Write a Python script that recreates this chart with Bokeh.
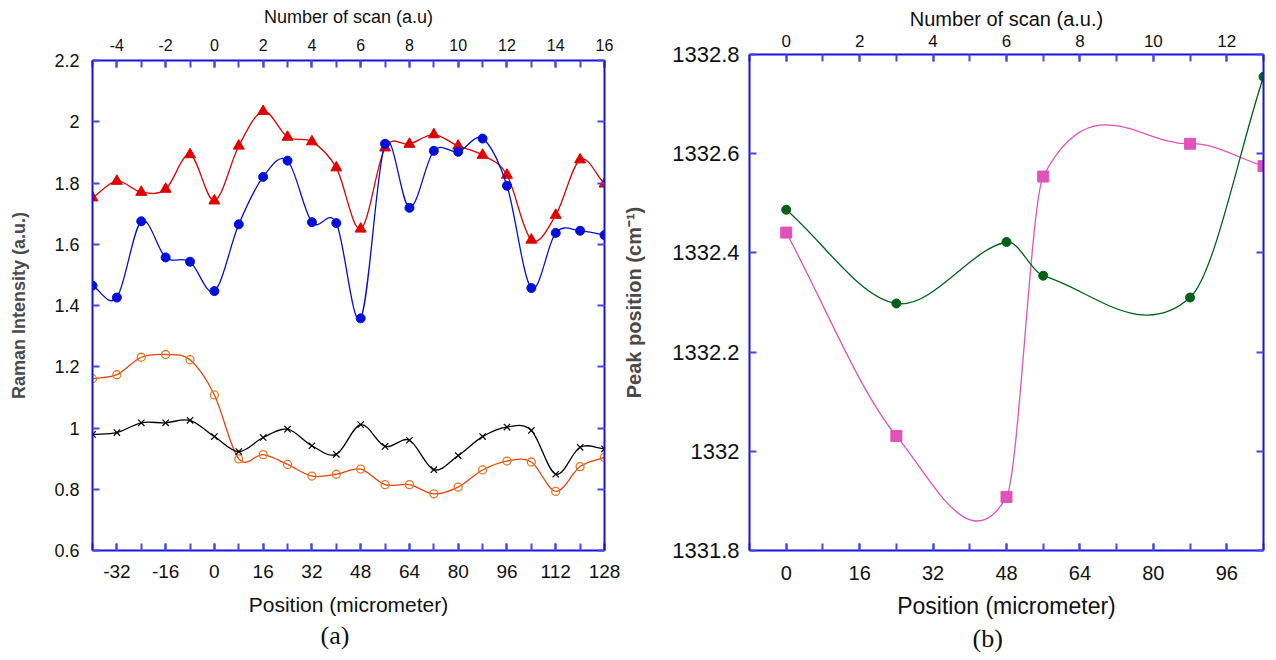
import numpy as np
from bokeh.plotting import figure
from bokeh.layouts import row, column
from bokeh.models import Range1d, LinearAxis, FixedTicker, CustomJSTickFormatter, Title
from bokeh.embed import file_html
from bokeh.resources import INLINE

# ---------------- data: panel (a) ----------------
pos_a = [-40, -32, -24, -16, -8, 0, 8, 16, 24, 32, 40, 48, 56, 64, 72, 80, 88, 96, 104, 112, 120, 128]
scan_ticks_a = [-4, -2, 0, 2, 4, 6, 8, 10, 12, 14, 16]
scan_minor_a = [-5, -4, -3, -2, -1, 0, 1, 2, 3, 4, 5, 6, 7, 8, 9, 10, 11, 12, 13, 14, 15, 16]
pos_ticks_a = [-32, -16, 0, 16, 32, 48, 64, 80, 96, 112, 128]
y_ticks_a = [0.6, 0.8, 1.0, 1.2, 1.4, 1.6, 1.8, 2.0, 2.2]

red_a = [1.752, 1.806, 1.770, 1.780, 1.893, 1.742, 1.921, 2.034, 1.950, 1.935, 1.850,
         1.650, 1.915, 1.927, 1.958, 1.921, 1.891, 1.826, 1.614, 1.695, 1.876, 1.797]
blue_a = [1.465, 1.426, 1.675, 1.557, 1.543, 1.447, 1.665, 1.820, 1.873, 1.672, 1.669,
          1.358, 1.928, 1.719, 1.905, 1.902, 1.945, 1.791, 1.457, 1.637, 1.644, 1.630]
orange_a = [1.161, 1.174, 1.231, 1.240, 1.223, 1.108, 0.899, 0.913, 0.881, 0.843, 0.849,
            0.866, 0.815, 0.815, 0.785, 0.807, 0.863, 0.892, 0.889, 0.793, 0.874, 0.904]
black_a = [0.979, 0.985, 1.017, 1.017, 1.025, 0.972, 0.923, 0.969, 0.996, 0.942, 0.914,
           1.011, 0.940, 0.960, 0.864, 0.910, 0.972, 1.003, 0.992, 0.849, 0.937, 0.932]

# ---------------- data: panel (b) ----------------
pos_b = [0, 24, 48, 56, 88, 104]
green_b = [1332.487, 1332.298, 1332.422, 1332.354, 1332.310, 1332.755]
pink_b = [1332.441, 1332.031, 1331.908, 1332.554, 1332.620, 1332.575]
scan_ticks_b = [0, 2, 4, 6, 8, 10, 12]
scan_minor_b = [-1, 0, 1, 2, 3, 4, 5, 6, 7, 8, 9, 10, 11, 12, 13]
pos_ticks_b = [0, 16, 32, 48, 64, 80, 96]
pos_minor_b = [-8, 0, 8, 16, 24, 32, 40, 48, 56, 64, 72, 80, 88, 96, 104]
y_ticks_b = [1331.8, 1332.0, 1332.2, 1332.4, 1332.6, 1332.8]

AXC = "#1414dc"
TKC = "#4646e6"
FONT = "Liberation Sans"


def smooth(x, y):
    """Cubic Hermite (Catmull-Rom style) bezier segments through the data points."""
    x = np.asarray(x, float)
    y = np.asarray(y, float)
    m = np.empty(len(x))
    m[1:-1] = (y[2:] - y[:-2]) / (x[2:] - x[:-2])
    m[0] = (y[1] - y[0]) / (x[1] - x[0])
    m[-1] = (y[-1] - y[-2]) / (x[-1] - x[-2])
    dx = np.diff(x)
    return dict(x0=x[:-1], y0=y[:-1], x1=x[1:], y1=y[1:],
                cx0=x[:-1] + dx / 3, cy0=y[:-1] + m[:-1] * dx / 3,
                cx1=x[1:] - dx / 3, cy1=y[1:] - m[1:] * dx / 3)


def style_axis(ax, fs, label_fs=None):
    ax.axis_line_color = AXC
    ax.axis_line_width = 2
    ax.major_tick_line_color = TKC
    ax.major_tick_line_width = 2
    ax.major_tick_in = 7
    ax.major_tick_out = 0
    ax.minor_tick_line_color = TKC
    ax.minor_tick_line_width = 2
    ax.minor_tick_in = 7
    ax.minor_tick_out = 0
    ax.major_label_text_font = FONT
    ax.major_label_text_font_size = fs
    ax.major_label_text_color = "#111111"
    ax.axis_label_text_font = FONT
    ax.axis_label_text_font_style = "normal"
    ax.axis_label_text_color = "#111111"
    if label_fs:
        ax.axis_label_text_font_size = label_fs


yfmt = "var s = tick.toFixed(1); return s.endsWith('.0') ? s.slice(0, -2) : s;"
xfmt = "return tick.toFixed(0);"
blank = "return '';"

H = 652

# ================= panel (a) =================
p1 = figure(width=620, height=H, x_range=Range1d(-40, 128), y_range=Range1d(0.6, 2.2),
            output_backend="svg", toolbar_location=None,
            min_border_left=92, min_border_right=16, min_border_top=60, min_border_bottom=H - 550)
p1.grid.visible = False
p1.outline_line_color = None
p1.extra_x_ranges = {"scan": Range1d(-5, 16)}

xa = p1.xaxis[0]
xa.ticker = FixedTicker(ticks=pos_ticks_a, minor_ticks=pos_a)
xa.formatter = CustomJSTickFormatter(code=xfmt)
xa.axis_label = "Position (micrometer)"
style_axis(xa, "19px", "21px")
xa.major_label_standoff = 14
xa.axis_label_standoff = 12

ya = p1.yaxis[0]
ya.ticker = FixedTicker(ticks=y_ticks_a)
ya.formatter = CustomJSTickFormatter(code=yfmt)
ya.axis_label = "Raman Intensity (a.u.)"
style_axis(ya, "18px", "18px")
ya.axis_label_text_font_style = "bold"
ya.axis_label_text_color = "#4a4a4a"
ya.major_label_standoff = 13
ya.axis_label_standoff = 22

ta = LinearAxis(x_range_name="scan", ticker=FixedTicker(ticks=scan_ticks_a, minor_ticks=scan_minor_a),
                formatter=CustomJSTickFormatter(code=xfmt), axis_label="Number of scan (a.u)")
style_axis(ta, "16px", "18px")
ta.major_label_standoff = 10
ta.axis_label_standoff = 9
p1.add_layout(ta, "above")

ra = LinearAxis(ticker=FixedTicker(ticks=y_ticks_a), formatter=CustomJSTickFormatter(code=blank))
style_axis(ra, "0px")
ra.major_label_standoff = 0
p1.add_layout(ra, "right")

p1.bezier(line_color="#e00000", line_width=1.3, **smooth(pos_a, red_a))
p1.scatter(pos_a, red_a, marker="triangle", size=11, color="#e00000")
p1.bezier(line_color="#0010d8", line_width=1.3, **smooth(pos_a, blue_a))
p1.scatter(pos_a, blue_a, marker="circle", size=9, color="#0010d8")
p1.bezier(line_color="#e8420c", line_width=1.3, **smooth(pos_a, orange_a))
p1.scatter(pos_a, orange_a, marker="circle", size=8, fill_color=None, line_color="#e8771e", line_width=1.3)
p1.bezier(line_color="#000000", line_width=1.3, **smooth(pos_a, black_a))
p1.scatter(pos_a, black_a, marker="x", size=9, line_color="#000000", line_width=1.2)

p1.add_layout(Title(text="(a)", align="left", offset=228, text_font="Liberation Serif",
                    text_font_size="26px", text_font_style="normal", text_color="#111111",
                    standoff=0), "below")

# ================= panel (b) =================
W2 = 1266 - 620
p2 = figure(width=W2, height=H, x_range=Range1d(-8, 104), y_range=Range1d(1331.8, 1332.8),
            output_backend="svg", toolbar_location=None,
            min_border_left=127, min_border_right=3, min_border_top=54, min_border_bottom=H - 552)
p2.grid.visible = False
p2.outline_line_color = None
p2.extra_x_ranges = {"scan": Range1d(-1, 13)}

xb = p2.xaxis[0]
xb.ticker = FixedTicker(ticks=pos_ticks_b, minor_ticks=pos_minor_b)
xb.formatter = CustomJSTickFormatter(code=xfmt)
xb.axis_label = "Position (micrometer)"
style_axis(xb, "20px", "23px")
xb.major_label_standoff = 15
xb.axis_label_standoff = 10

yb = p2.yaxis[0]
yb.ticker = FixedTicker(ticks=y_ticks_b)
yb.formatter = CustomJSTickFormatter(code=yfmt)
yb.axis_label = "Peak position (cm⁻¹)"
style_axis(yb, "22px", "20px")
yb.axis_label_text_font_style = "bold"
yb.axis_label_text_color = "#4a4a4a"
yb.major_label_standoff = 10
yb.axis_label_standoff = 24

tb = LinearAxis(x_range_name="scan", ticker=FixedTicker(ticks=scan_ticks_b, minor_ticks=scan_minor_b),
                formatter=CustomJSTickFormatter(code=xfmt), axis_label="Number of scan (a.u.)")
style_axis(tb, "17px", "20px")
tb.major_label_standoff = 8
tb.axis_label_standoff = 2
p2.add_layout(tb, "above")

rb = LinearAxis(ticker=FixedTicker(ticks=y_ticks_b), formatter=CustomJSTickFormatter(code=blank))
style_axis(rb, "0px")
rb.major_label_standoff = 0
p2.add_layout(rb, "right")

p2.bezier(line_color="#e052b8", line_width=1.3, **smooth(pos_b, pink_b))
p2.scatter(pos_b, pink_b, marker="square", size=11, color="#e052b8")
p2.bezier(line_color="#006018", line_width=1.3, **smooth(pos_b, green_b))
p2.scatter(pos_b, green_b, marker="circle", size=9, color="#006018")

p2.add_layout(Title(text="(b)", align="left", offset=223, text_font="Liberation Serif",
                    text_font_size="26px", text_font_style="normal", text_color="#111111",
                    standoff=0), "below")

layout = row(column(p1), column(p2))
open("out.html", "w").write(file_html(layout, INLINE))
